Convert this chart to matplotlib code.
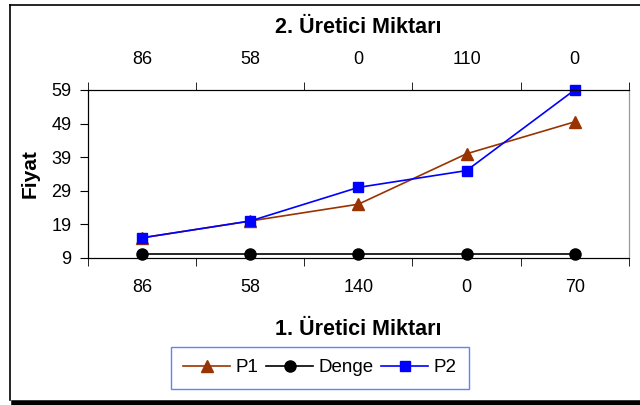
import matplotlib
matplotlib.use("Agg")
import matplotlib.pyplot as plt
from matplotlib.lines import Line2D
import numpy as np

plt.rcParams["font.family"] = ["Liberation Sans", "DejaVu Sans"]

bottom_labels = ["86", "58", "140", "0", "70"]
top_labels = ["86", "58", "0", "110", "0"]
p1 = [15, 20, 25, 40, 49.5]
denge = [10.2, 10.2, 10.2, 10.2, 10.2]
p2 = [15, 20, 30, 35, 59]
yticks = [9, 19, 29, 39, 49, 59]

fig = plt.figure(figsize=(6.4, 4.05), dpi=100)
ax = fig.add_axes([0.1375, 0.363, 0.845, 0.415])

x = np.arange(len(bottom_labels))
ax.plot(x, p1, color="#993300", marker="^", markersize=8, lw=1.2, label="P1", clip_on=False, zorder=3)
ax.plot(x, denge, color="black", marker="o", markersize=8, lw=1.2, label="Denge", clip_on=False, zorder=3)
ax.plot(x, p2, color="#0000FF", marker="s", markersize=7.5, lw=1.2, label="P2", clip_on=False, zorder=4)

ax.set_xlim(-0.5, len(x) - 0.5)
ax.set_ylim(9, 59)
ax.set_yticks(yticks)
ax.set_xticks(x)
ax.set_xticklabels(bottom_labels)
ax.set_xticks(np.arange(-0.5, len(x)), minor=True)
ax.tick_params(axis="x", which="major", length=0, labelsize=13, pad=15)
ax.tick_params(axis="x", which="minor", length=6, direction="out")
ax.tick_params(axis="y", length=6, direction="out", labelsize=13, pad=6)
ax.set_xlabel("1. Üretici Miktarı", fontsize=15.5, fontweight="bold", labelpad=17)
ax.set_ylabel("Fiyat", fontsize=15, fontweight="bold", labelpad=8)
ax.spines["right"].set_color("#999999")

ax2 = ax.twiny()
ax2.set_xlim(ax.get_xlim())
ax2.set_xticks(x)
ax2.set_xticklabels(top_labels)
ax2.set_xticks(np.arange(-0.5, len(x)), minor=True)
ax2.tick_params(axis="x", which="major", length=0, labelsize=13, pad=16)
ax2.tick_params(axis="x", which="minor", length=6, direction="out")
ax2.set_xlabel("2. Üretici Miktarı", fontsize=15.5, fontweight="bold", labelpad=13)
ax2.spines["right"].set_color("#999999")

handles, labels = ax.get_legend_handles_labels()
leg = fig.legend(handles, labels, loc="upper center", bbox_to_anchor=(0.5, 1 - 347 / 405),
                 ncol=3, frameon=True, fancybox=False, edgecolor="#3366FF", fontsize=13.5,
                 handlelength=2.5, handletextpad=0.3, columnspacing=0.4, borderpad=0.65,
                 borderaxespad=0)
leg.get_frame().set_linewidth(1.0)

# outer chart frame
fig.add_artist(Line2D([10 / 640, 10 / 640], [1 - 400 / 405, 1 - 5 / 405], transform=fig.transFigure,
                      color="black", lw=1.2))
fig.add_artist(Line2D([10 / 640, 1], [1 - 5 / 405, 1 - 5 / 405], transform=fig.transFigure,
                      color="black", lw=1.2))
fig.add_artist(Line2D([14 / 640, 1], [1 - 402.5 / 405, 1 - 402.5 / 405], transform=fig.transFigure,
                      color="black", lw=4))

fig.savefig("out.png", dpi=100)
